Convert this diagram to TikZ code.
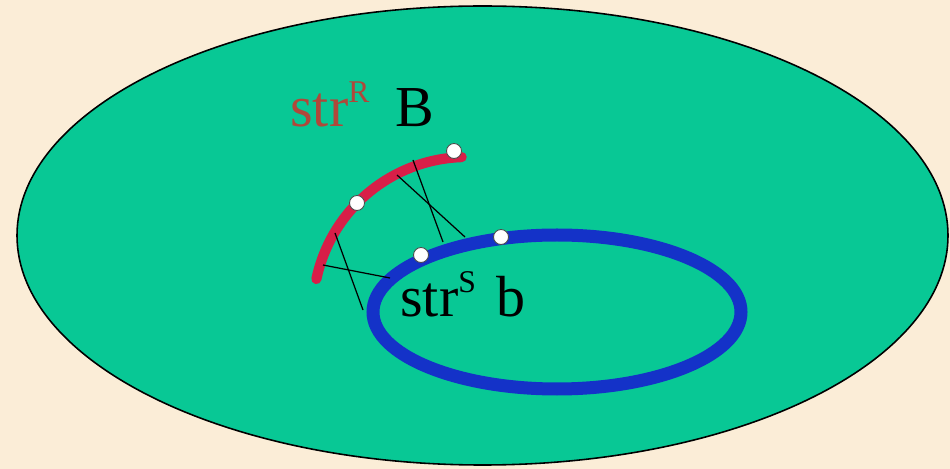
\documentclass[tikz,border=0pt]{standalone}
\usepackage{fontspec}
\setmainfont{Liberation Serif}
\usepackage{xcolor}
\usepackage{tikz}
\usetikzlibrary{positioning}
\definecolor{paperbg}{HTML}{FBEDD7}
\definecolor{fieldgreen}{HTML}{08C895}
\definecolor{arcred}{HTML}{D81E48}
\definecolor{labelred}{HTML}{B0483A}
\definecolor{loopblue}{HTML}{1432C8}
\newcommand{\strsup}[1]{\raisebox{0.42em}{\fontsize{18}{20}\selectfont #1}}
\tikzset{
  field/.style={draw=black, line width=0.9pt, fill=fieldgreen},
  bigloop/.style={draw=loopblue, line width=7.4pt},
  bigarc/.style={draw=arcred, line width=5.8pt, line cap=round},
  chord/.style={draw=black, line width=0.7pt},
  pt/.style={circle, draw=black!70, line width=0.5pt, fill=white, inner sep=0pt, minimum size=0.3cm},
  lbl/.style={anchor=base west, inner sep=0pt, font=\fontsize{33}{36}\selectfont},
}
\begin{document}
\begin{tikzpicture}[x=0.02cm, y=-0.02cm]

\useasboundingbox (0,0) rectangle (950,469);
\fill[paperbg] (0,0) rectangle (950,469);

%% =====================================================================
%% Field and the two strings
%% =====================================================================
\draw[field] (482.5,235.5) ellipse[x radius=465.5, y radius=229.5];

\draw[bigloop] (557,312) ellipse[x radius=184, y radius=77];

\coordinate (arcstart) at (316.4,279);
\draw[bigarc] (arcstart) arc[start angle=-168, end angle=-92, radius=154];

%% chords between the strings
\coordinate (r1) at (413,160);
\coordinate (r2) at (397,175);
\coordinate (r3) at (335,233);
\coordinate (r4) at (323,265);
\coordinate (s1) at (443,242);
\coordinate (s2) at (465,237);
\coordinate (s3) at (363,310);
\coordinate (s4) at (390,278);

\draw[chord] (r1) -- (s1);
\draw[chord] (r2) -- (s2);
\draw[chord] (r3) -- (s3);
\draw[chord] (r4) -- (s4);

%% marked points
\node[pt] (rtop) at (454,151) {};
\node[pt] (rmid) at (357,203) {};
\node[pt] (sleft) at (421,255) {};
\node[pt] (sright) at (501,237) {};

%% labels
\node[lbl] (lblR) at (290,127) {\textcolor{labelred}{str\strsup{R}}\hspace{0.45em}B};
\node[lbl] (lblS) at (400,317) {str\strsup{S}\hspace{0.35em}b};

\end{tikzpicture}
\end{document}
